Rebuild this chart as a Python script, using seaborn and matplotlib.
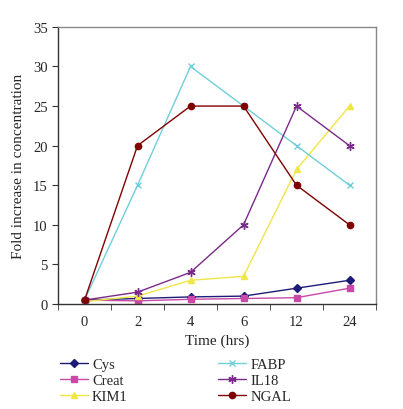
import matplotlib
matplotlib.use("Agg")
import matplotlib.pyplot as plt
import seaborn as sns
import numpy as np

times = ['0', '2', '4', '6', '12', '24']
cys = [0.5, 0.7, 0.9, 1.0, 2.0, 3.0]
creat = [0.5, 0.4, 0.6, 0.7, 0.8, 2.0]
kim1 = [0.3, 1.0, 3.0, 3.5, 17, 25]
fabp = [0.5, 15, 30, 25, 20, 15]
il18 = [0.5, 1.5, 4, 10, 25, 20]
ngal = [0.5, 20, 25, 25, 15, 10]

sns.set_style("white")
plt.rcParams['font.family'] = ['Liberation Serif', 'DejaVu Serif']
plt.rcParams['font.size'] = 10

fig = plt.figure(figsize=(4.03, 4.10), dpi=100)
ax = fig.add_axes([0.144, 0.256, 0.789, 0.676])

xpos = np.arange(len(times))
series = [
    ('Cys', cys, '#1c1c78', 'D', 4),
    ('Creat', creat, '#c849a8', 's', 4.5),
    ('KIM1', kim1, '#f0e646', '^', 5),
    ('FABP', fabp, '#6fcfda', 'x', 5),
    ('IL18', il18, '#7a2a88', (6, 2, 0), 6),
    ('NGAL', ngal, '#800000', 'o', 4.5),
]
for name, vals, col, mk, ms in series:
    sns.lineplot(x=xpos, y=vals, ax=ax, color=col, marker=mk, markersize=ms,
                 markeredgecolor=col, markeredgewidth=1, linewidth=1, label=name)

ax.set_xlim(-0.5, 5.5)
ax.set_ylim(0, 35)
ax.set_yticks(range(0, 36, 5))
ax.set_xticks(xpos)
ax.set_xticklabels(times)
ax.set_xticks(np.arange(-0.5, 5.6, 1), minor=True)
ax.tick_params(axis='x', which='major', length=0, pad=8, labelsize=10.5)
ax.tick_params(axis='x', which='minor', length=4, direction='out', bottom=True, color='#333333')
ax.tick_params(axis='y', length=4, direction='out', left=True, labelsize=10.5, color='#333333')
for side in ['top', 'right']:
    ax.spines[side].set_color('#888888')
    ax.spines[side].set_linewidth(1)
for side in ['left', 'bottom']:
    ax.spines[side].set_color('#333333')
    ax.spines[side].set_linewidth(1)

ax.set_xlabel('Time (hrs)', fontsize=11, labelpad=4)
ax.set_ylabel('Fold increase in concentration', fontsize=11, labelpad=6)

handles, labels = ax.get_legend_handles_labels()
ax.legend(handles, labels, ncol=2, frameon=False, loc='upper left',
          bbox_to_anchor=(0.006, -0.193), bbox_transform=ax.transAxes,
          borderaxespad=0, borderpad=0,
          fontsize=10.5, handlelength=1.9, handletextpad=0.3, columnspacing=6.2,
          labelspacing=0.2)

fig.savefig('out.png', dpi=100)
